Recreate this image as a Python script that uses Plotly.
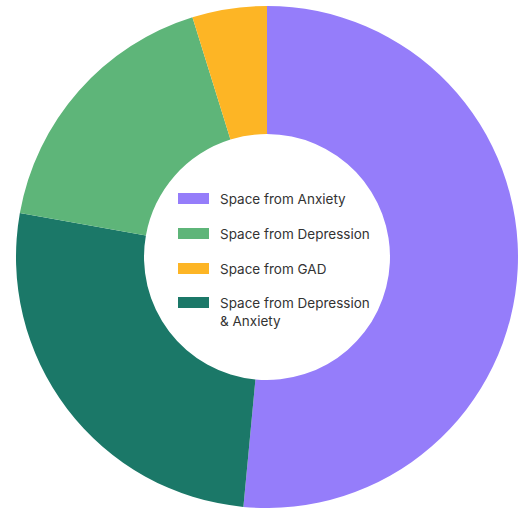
import plotly.graph_objects as go

# Slices in clockwise drawing order (from 12 o'clock)
slice_labels = ["Space from Anxiety", "Space from Depression & Anxiety",
                "Space from Depression", "Space from GAD"]
slice_values = [51.5, 26.3, 17.4, 4.8]
slice_colors = ["#957DFA", "#1B7868", "#5EB579", "#FDB525"]

# Legend order as shown in the reference
legend_labels = ["Space from Anxiety", "Space from Depression",
                 "Space from GAD", "Space from Depression<br>& Anxiety"]
legend_colors = ["#957DFA", "#5EB579", "#FDB525", "#1B7868"]

W, H = 520, 509
fig = go.Figure(go.Pie(
    labels=slice_labels,
    values=slice_values,
    marker=dict(colors=slice_colors, line=dict(width=0)),
    sort=False,
    direction="clockwise",
    rotation=0,
    hole=0.49,
    textinfo="none",
    hoverinfo="label+percent",
    showlegend=False,
    domain=dict(x=[16 / W, 518 / W], y=[1 / H, 503 / H]),
))

# Custom legend in the hole (rectangles + text)
y_tops = [193, 228, 263, 297]
shapes, annotations = [], []
for lab, col, yt in zip(legend_labels, legend_colors, y_tops):
    shapes.append(dict(type="rect", xref="paper", yref="paper",
                       x0=178 / W, x1=209 / W,
                       y0=1 - (yt + 11) / H, y1=1 - yt / H,
                       fillcolor=col, line=dict(width=0)))
    annotations.append(dict(xref="paper", yref="paper", x=218 / W,
                            y=1 - (yt - 4) / H, xanchor="left", yanchor="top",
                            text=lab, showarrow=False, align="left",
                            font=dict(family="Inter, Lato, sans-serif",
                                      size=13.5, color="#333333")))

fig.update_layout(
    width=W, height=H,
    margin=dict(l=0, r=0, t=0, b=0),
    paper_bgcolor="white", plot_bgcolor="white",
    shapes=shapes, annotations=annotations,
)
fig.write_html("out.html", config={"displayModeBar": False},
               post_script="document.body.style.margin='0';")
